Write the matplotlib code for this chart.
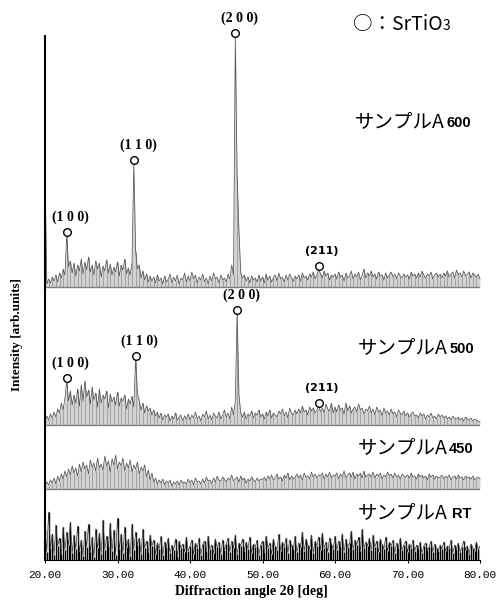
import numpy as np
import matplotlib
matplotlib.use('Agg')
import matplotlib.pyplot as plt

# 2theta grid, 0.25 deg steps from 20 to 80
two_theta = np.arange(20.0, 80.001, 0.25)

# intensities (arb. units, height above each baseline), 20 values per 5 deg
a600 = [
    112, 3, 8, 4, 10, 6, 12, 5, 14, 9, 18, 12, 52, 20, 26, 14, 24, 11, 22, 16,
    28, 13, 25, 17, 30, 15, 22, 12, 26, 18, 24, 10, 21, 16, 27, 14, 23, 12, 20, 15,
    25, 11, 22, 17, 28, 13, 19, 12, 24, 124, 36, 18, 22, 9, 16, 7, 13, 5, 11, 6,
    10, 4, 12, 6, 9, 3, 11, 5, 8, 13, 4, 10, 6, 12, 3, 9, 7, 14, 5, 11,
    6, 15, 8, 12, 4, 10, 7, 13, 5, 9, 3, 11, 6, 14, 8, 10, 4, 12, 7, 9,
    5, 13, 8, 22, 12, 251, 110, 56, 14, 9, 12, 6, 10, 4, 11, 7, 9, 5, 12, 6,
    10, 4, 13, 7, 11, 5, 9, 12, 6, 14, 8, 10, 5, 12, 7, 13, 9, 6, 11, 8,
    12, 6, 14, 9, 11, 7, 13, 10, 15, 8, 12, 18, 13, 9, 16, 11, 14, 7, 12, 10,
    13, 8, 15, 10, 12, 6, 14, 9, 11, 16, 8, 13, 10, 15, 7, 12, 18, 9, 14, 11,
    16, 10, 13, 8, 15, 11, 12, 7, 14, 9, 12, 15, 10, 13, 8, 14, 11, 9, 13, 10,
    12, 8, 15, 11, 13, 9, 14, 10, 16, 12, 9, 13, 11, 15, 8, 12, 14, 10, 13, 9,
    14, 11, 16, 10, 13, 15, 9, 17, 12, 14, 10, 16, 11, 13, 15, 9, 14, 12, 10, 13,
    8]
a500 = [
    4, 9, 5, 11, 7, 13, 8, 16, 12, 22, 15, 27, 44, 24, 34, 20, 30, 22, 36, 19,
    40, 24, 44, 28, 35, 21, 38, 25, 32, 18, 36, 22, 30, 26, 34, 17, 31, 23, 28, 20,
    33, 19, 27, 24, 30, 16, 26, 21, 29, 18, 66, 32, 24, 15, 22, 12, 19, 14, 17, 10,
    15, 9, 13, 7, 12, 5, 10, 8, 11, 4, 9, 6, 12, 5, 8, 10, 4, 9, 6, 11,
    5, 10, 7, 13, 6, 9, 4, 11, 8, 14, 6, 10, 5, 12, 9, 7, 13, 6, 10, 15,
    8, 12, 6, 18, 10, 24, 112, 30, 12, 8, 13, 6, 11, 9, 14, 7, 12, 10, 15, 8,
    11, 6, 13, 9, 15, 7, 12, 10, 8, 14, 11, 16, 9, 13, 7, 17, 12, 10, 15, 11,
    16, 12, 19, 13, 15, 10, 18, 14, 17, 12, 15, 19, 13, 17, 12, 21, 16, 14, 22, 12,
    18, 13, 20, 15, 17, 11, 22, 14, 19, 12, 16, 18, 13, 21, 15, 17, 11, 16, 14, 19,
    12, 16, 10, 18, 13, 15, 9, 17, 12, 14, 10, 16, 11, 13, 8, 15, 12, 10, 14, 9,
    12, 8, 11, 13, 9, 10, 7, 12, 9, 11, 6, 10, 8, 12, 7, 9, 6, 11, 8, 10,
    7, 9, 6, 8, 5, 9, 7, 6, 8, 5, 7, 4, 8, 6, 5, 7, 4, 6, 5, 4,
    3]
a450 = [
    3, 7, 4, 9, 6, 11, 5, 13, 8, 15, 10, 18, 12, 20, 14, 23, 16, 21, 13, 25,
    17, 27, 20, 24, 15, 29, 22, 26, 18, 31, 21, 25, 19, 33, 23, 28, 17, 30, 24, 34,
    20, 27, 23, 31, 18, 26, 21, 29, 17, 24, 20, 27, 15, 22, 18, 24, 12, 19, 9, 16,
    7, 11, 5, 9, 6, 10, 4, 8, 6, 9, 3, 7, 5, 8, 4, 9, 6, 7, 5, 10,
    6, 9, 4, 11, 7, 8, 5, 10, 6, 12, 8, 9, 5, 11, 7, 13, 9, 8, 12, 10,
    7, 11, 9, 14, 8, 10, 12, 7, 13, 9, 11, 6, 10, 8, 12, 9, 7, 11, 8, 10,
    9, 12, 8, 13, 10, 14, 9, 11, 15, 10, 12, 8, 14, 11, 16, 9, 13, 10, 12, 15,
    11, 14, 9, 16, 12, 13, 10, 17, 12, 15, 11, 14, 13, 16, 10, 15, 12, 17, 11, 14,
    13, 16, 10, 15, 12, 18, 11, 14, 16, 12, 17, 10, 15, 13, 16, 11, 18, 12, 14, 15,
    12, 17, 11, 15, 13, 16, 10, 14, 12, 17, 13, 15, 11, 16, 12, 14, 10, 15, 13, 12,
    14, 11, 16, 12, 13, 10, 15, 12, 14, 11, 13, 9, 15, 12, 14, 10, 13, 11, 12, 14,
    10, 13, 11, 14, 9, 12, 13, 10, 14, 11, 12, 9, 13, 11, 12, 10, 13, 9, 11, 12,
    10]
a_rt = [
    30, 8, 48, 12, 26, 5, 35, 14, 22, 6, 33, 10, 28, 15, 38, 7, 25, 11, 34, 9,
    20, 4, 29, 13, 36, 8, 23, 3, 31, 12, 27, 6, 40, 10, 24, 14, 37, 9, 30, 5,
    42, 11, 26, 7, 33, 13, 21, 4, 36, 10, 28, 15, 22, 6, 31, 12, 19, 8, 25, 14,
    20, 6, 17, 11, 24, 5, 18, 13, 22, 7, 15, 10, 21, 4, 19, 12, 16, 8, 23, 9,
    14, 20, 6, 17, 12, 22, 5, 16, 19, 9, 24, 11, 15, 7, 21, 13, 18, 6, 20, 10,
    16, 22, 8, 19, 12, 25, 6, 17, 14, 21, 9, 18, 11, 23, 7, 16, 13, 20, 5, 15,
    19, 8, 24, 12, 17, 6, 21, 14, 10, 26, 9, 18, 13, 22, 7, 20, 15, 11, 24, 8,
    17, 13, 28, 9, 21, 15, 11, 25, 7, 19, 14, 23, 10, 27, 12, 18, 8, 22, 16, 11,
    24, 10, 19, 14, 26, 8, 21, 13, 17, 29, 11, 20, 15, 23, 9, 31, 12, 18, 14, 22,
    10, 25, 13, 19, 8, 21, 16, 11, 23, 9, 18, 14, 20, 7, 17, 12, 22, 10, 15, 19,
    8, 16, 12, 20, 9, 15, 11, 18, 7, 14, 17, 10, 13, 19, 8, 16, 12, 9, 15, 11,
    18, 9, 14, 12, 20, 7, 15, 11, 17, 8, 13, 19, 10, 14, 6, 16, 12, 9, 18, 11,
    14]

# vertical offsets of the stacked patterns
offsets = {'600': 273, '500': 135, '450': 71, 'RT': 0}

# SrTiO3 peaks
hkl = ['(1 0 0)', '(1 1 0)', '(2 0 0)', '(211)']
peaks_600_x = [23.0, 32.25, 46.25, 57.75]
peaks_600_h = [52, 124, 251, 18]
peaks_500_x = [23.0, 32.5, 46.5, 57.75]
peaks_500_h = [44, 66, 112, 19]

jp = ['Noto Sans CJK JP', 'DejaVu Sans']

fig = plt.figure(figsize=(4.99, 6.01), dpi=100)
ax = fig.add_axes([45/499, 41/601, 435/499, 532/601])
ax.set_xlim(20, 80)
ax.set_ylim(0, 532)

traces = [('600', a600), ('500', a500), ('450', a450)]
for key, vals in traces:
    base = offsets[key]
    y = base + np.array(vals)
    ax.fill_between(two_theta, base, y, color='#d2d2d2', lw=0, clip_on=False)
    ax.vlines(two_theta[::2], base, y[::2], color='#9a9a9a', lw=0.6)
    ax.plot(two_theta, y, color='#555555', lw=0.55, clip_on=False)
    ax.axhline(base, color='#808080', lw=1.0)

y_rt = np.array(a_rt)
ax.vlines(two_theta, 0, y_rt, color='black', lw=1.0)
ax.plot(two_theta, y_rt, color='#333333', lw=0.5)

for key, px, ph in [('600', peaks_600_x, peaks_600_h), ('500', peaks_500_x, peaks_500_h)]:
    base = offsets[key]
    for lab, x, h in zip(hkl, px, ph):
        yc = base + h + 3.5
        ax.plot(x, yc, 'o', mfc='white', mec='black', ms=5.5, mew=1.0,
                clip_on=False, zorder=5)
        if lab == '(211)':
            ax.annotate(lab, (x, yc), xytext=(2, 10.5), textcoords='offset points',
                        ha='center', va='center', fontsize=8, fontweight='bold',
                        family='DejaVu Sans')
        else:
            ax.annotate(lab, (x, yc), xytext=(3, 10), textcoords='offset points',
                        ha='center', va='center', fontsize=10, fontweight='bold',
                        family='Liberation Serif')

# sample names
names = [('600', 62.76, 433), ('500', 63.17, 207), ('450', 63.17, 107), ('RT', 63.17, 42)]
for sub, x, y in names:
    t = ax.text(x, y, 'サンプルA', fontsize=14, family=jp, va='baseline', ha='left')
    dx = 3 if sub == 'RT' else 1
    ax.annotate(sub, xy=(1, y), xycoords=(t, 'data'), xytext=(dx, 0),
                textcoords='offset points', va='baseline', ha='left',
                fontsize=10.5, fontweight='bold', family='Liberation Sans')

t = ax.text(62.48, 530, '○：SrTiO', fontsize=14, family=jp, va='baseline', ha='left')
ax.annotate('3', xy=(1, 530), xycoords=(t, 'data'), va='baseline', ha='left',
            fontsize=10, family=jp)

for s in ['top', 'right']:
    ax.spines[s].set_visible(False)
ax.spines['left'].set_bounds(0, 524)
ax.spines['left'].set_linewidth(1.5)
ax.spines['bottom'].set_linewidth(0.8)
ax.set_yticks([])
ax.set_xticks([20, 30, 40, 50, 60, 70, 80])
ax.set_xticklabels(['20.00', '30.00', '40.00', '50.00', '60.00', '70.00', '80.00'],
                   family='Liberation Mono', fontsize=8)
ax.tick_params(axis='x', length=2, pad=5)

fig.text(17/499, 0.443, 'Intensity [arb.units]', rotation=90, ha='center', va='center',
         fontsize=9.5, fontweight='bold', family='Liberation Serif')
fig.text(251/499, 9/601, 'Diffraction angle 2θ [deg]', ha='center', va='center',
         fontsize=10, fontweight='bold', family='Liberation Serif')

fig.savefig('out.png', dpi=100)
